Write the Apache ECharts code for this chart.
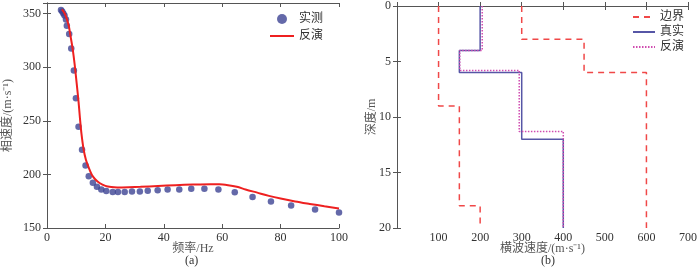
<!DOCTYPE html>
<html>
<head>
<meta charset="utf-8">
<script src="https://cdn.jsdelivr.net/npm/echarts@6/dist/echarts.min.js"></script>
<style>
  html, body { margin: 0; padding: 0; background: #fff; }
  #chart { width: 700px; height: 267px; }
</style>
</head>
<body>
<div id="chart"></div>
<script>
// (a) 频散曲线：实测点
const measFreq = [4.8, 5.2, 5.6, 6.0, 6.5, 6.8, 7.6, 8.3, 9.2, 9.9, 10.8, 12.0, 13.2, 14.3, 15.7, 17.1, 18.6, 20.3,
  22.5, 24.3, 26.6, 29.1, 31.8, 34.5, 37.9, 41.3, 45.3, 49.4, 53.9, 58.7, 64.3, 70.4, 76.7, 83.6, 91.8, 100]
const measVel = [353.5, 352, 350.3, 348.4, 344.7, 338.8, 331, 317.5, 297, 271, 244.4, 223, 208.4, 198.4, 192.2, 188.4, 186, 184.6,
  183.6, 183.6, 183.6, 184, 184, 184.7, 185.3, 186, 186, 186.6, 186.6, 186, 183.4, 179, 174.7, 170.9, 167.2, 164.4]
// 反演曲线
const invFreq = [5.1, 6, 6.8, 7.5, 8, 8.8, 9.5, 10.2, 10.8, 11.3, 11.8, 12.5, 13.3, 14.2, 15.3, 16.5, 18, 20, 22, 24, 28,
  32, 38, 44, 50, 56, 59, 62, 65, 68, 72, 76, 80, 85, 90, 95, 100]
const invVel = [354, 350.5, 345, 338, 330, 317, 302, 284, 268, 252, 238, 224, 214, 207, 200, 195.5, 192, 189.3, 188.2, 187.8, 188,
  188.4, 189.3, 190, 190.5, 190.8, 190.8, 190, 188.5, 186, 183, 180, 177.5, 174.8, 172.5, 170.3, 168.3]

// (b) 横波速度剖面：各层顶深度与速度
const lowTop = [0, 9, 18], lowVs = [100, 150, 200]
const upTop = [0, 3, 6], upVs = [300, 450, 600]
const trueTop = [0, 4, 6, 12], trueVs = [200, 150, 300, 400]
const invTop = [0, 4, 5.8, 11.3], invVs = [205, 151, 294, 400]
const maxDepth = 20

const font = "'Liberation Serif', 'Noto Sans CJK SC', serif"
const txt = '#333'

// 分层 -> 阶梯折线
const toSteps = (tops, vs) => {
  const pts = []
  tops.forEach((t, i) => {
    const bot = i < tops.length - 1 ? tops[i + 1] : maxDepth
    pts.push([vs[i], t], [vs[i], bot])
  })
  return pts
}
const zip = (a, b) => a.map((v, i) => [v, b[i]])

const myChart = echarts.init(document.getElementById('chart'))

const boxAxis = (extra) => Object.assign({
  axisLine: { show: true, lineStyle: { color: '#555', width: 1 } },
  axisTick: { show: true, inside: true, length: 4, lineStyle: { color: '#555' } },
  axisLabel: { show: false },
  splitLine: { show: false },
  nameMoveOverlap: false
}, extra)

const label = { color: txt, fontFamily: font, fontSize: 12 }
const nameStyle = { color: '#555', fontFamily: font, fontSize: 12 }
// 图例里线条不带圆点
const lineItem = n => ({ name: n, itemStyle: { opacity: 0 } })
// (b) 图的反演系列单独命名，图例里仍显示“反演”
const INV_B = '反演(b)'

const option = {
  animation: false,
  grid: [
    { left: 47, right: 361, top: 3, bottom: 39 },
    { left: 397, right: 8, top: 3, bottom: 39 }
  ],
  legend: [
    {
      data: [{ name: '实测' }, lineItem('反演')],
      orient: 'vertical', left: 264, top: 8, itemGap: 5, itemWidth: 24, itemHeight: 10,
      textStyle: { color: txt, fontFamily: font, fontSize: 12 }
    },
    {
      data: ['边界', '真实', INV_B].map(lineItem),
      formatter: n => n === INV_B ? '反演' : n,
      orient: 'vertical', left: 627, top: 6, itemGap: 3, itemWidth: 22, itemHeight: 10,
      textStyle: { color: txt, fontFamily: font, fontSize: 12 }
    }
  ],
  xAxis: [
    boxAxis({
      gridIndex: 0, type: 'value', min: 0, max: 100, interval: 20,
      axisLabel: Object.assign({ show: true, margin: 4 }, label),
      name: '频率/Hz', nameLocation: 'middle', nameGap: 15, nameTextStyle: nameStyle
    }),
    boxAxis({ gridIndex: 0, type: 'value', min: 0, max: 100, interval: 20, position: 'top' }),
    boxAxis({
      gridIndex: 1, type: 'value', min: 0, max: 700, interval: 100,
      axisLabel: Object.assign({ show: true, margin: 4, formatter: v => v === 0 ? '' : v }, label),
      name: '横波速度/(m·s⁻¹)', nameLocation: 'middle', nameGap: 15, nameTextStyle: nameStyle
    }),
    boxAxis({ gridIndex: 1, type: 'value', min: 0, max: 700, interval: 100, position: 'top' })
  ],
  yAxis: [
    boxAxis({
      gridIndex: 0, type: 'value', min: 150, max: 360, interval: 50,
      axisLabel: Object.assign({ show: true, margin: 6, formatter: v => v > 350 ? '' : v }, label),
      name: '相速度/(m·s⁻¹)', nameLocation: 'middle', nameGap: 33, nameTextStyle: nameStyle
    }),
    boxAxis({ gridIndex: 0, type: 'value', min: 150, max: 360, interval: 50, position: 'right' }),
    boxAxis({
      gridIndex: 1, type: 'value', min: 0, max: 20, interval: 5, inverse: true,
      axisLabel: Object.assign({ show: true, margin: 6 }, label),
      name: '深度/m', nameLocation: 'middle', nameGap: 19, nameTextStyle: nameStyle
    }),
    boxAxis({ gridIndex: 1, type: 'value', min: 0, max: 20, interval: 5, inverse: true, position: 'right' })
  ],
  series: [
    {
      name: '实测', type: 'scatter', xAxisIndex: 0, yAxisIndex: 0,
      data: zip(measFreq, measVel), symbolSize: 6.5, itemStyle: { color: '#3d4394' }, z: 3
    },
    {
      name: '反演', type: 'line', xAxisIndex: 0, yAxisIndex: 0, smooth: 0.3,
      data: zip(invFreq, invVel), symbol: 'none', lineStyle: { color: '#ee2020', width: 2 },
      itemStyle: { color: '#ee2020' }, z: 4
    },
    {
      name: '边界', type: 'line', xAxisIndex: 2, yAxisIndex: 2, data: toSteps(lowTop, lowVs),
      symbol: 'none', lineStyle: { color: '#f04848', width: 1.5, type: [6, 5] }, itemStyle: { color: '#f04848' }
    },
    {
      name: '边界', type: 'line', xAxisIndex: 2, yAxisIndex: 2, data: toSteps(upTop, upVs),
      symbol: 'none', lineStyle: { color: '#f04848', width: 1.5, type: [6, 5] }, itemStyle: { color: '#f04848' }
    },
    {
      name: '真实', type: 'line', xAxisIndex: 2, yAxisIndex: 2, data: toSteps(trueTop, trueVs),
      symbol: 'none', lineStyle: { color: '#5656a6', width: 1.5 }, itemStyle: { color: '#5656a6' }
    },
    {
      name: INV_B, type: 'line', xAxisIndex: 2, yAxisIndex: 2, data: toSteps(invTop, invVs),
      symbol: 'none', lineStyle: { color: '#d04cb0', width: 1.5, type: [1.5, 1.5] }, itemStyle: { color: '#d04cb0' }
    }
  ],
  graphic: [
    { type: 'text', left: 185, top: 255, style: { text: '(a)', fill: txt, font: '12px ' + font } },
    { type: 'text', left: 541, top: 255, style: { text: '(b)', fill: txt, font: '12px ' + font } }
  ]
}

myChart.setOption(option)
window.addEventListener('resize', myChart.resize)
</script>
</body>
</html>
